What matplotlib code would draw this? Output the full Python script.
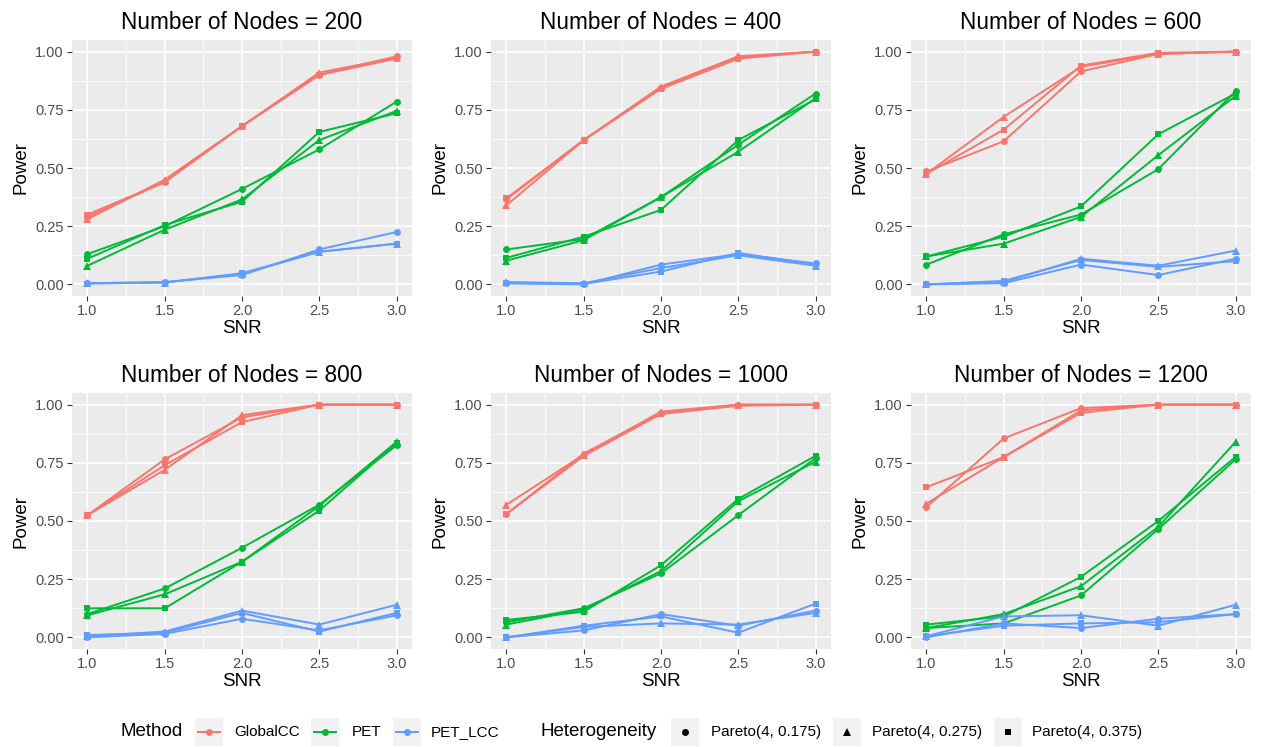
import matplotlib
matplotlib.use("Agg")
import matplotlib.pyplot as plt
from matplotlib.lines import Line2D
from matplotlib.patches import Rectangle

plt.rcParams['font.family'] = ['Liberation Sans', 'DejaVu Sans']

snr = [1.0, 1.5, 2.0, 2.5, 3.0]
nodes = [200, 400, 600, 800, 1000, 1200]
methods = ["GlobalCC", "PET", "PET_LCC"]
hetero = ["Pareto(4, 0.175)", "Pareto(4, 0.275)", "Pareto(4, 0.375)"]

# power[nodes][method] -> three series (one per heterogeneity level)
power_200 = {
    "GlobalCC": [[0.29, 0.44, 0.68, 0.90, 0.98], [0.28, 0.45, 0.68, 0.91, 0.975], [0.30, 0.44, 0.68, 0.90, 0.97]],
    "PET": [[0.13, 0.25, 0.41, 0.58, 0.785], [0.08, 0.235, 0.365, 0.62, 0.745], [0.11, 0.255, 0.355, 0.655, 0.735]],
    "PET_LCC": [[0.005, 0.01, 0.04, 0.15, 0.225], [0.005, 0.008, 0.045, 0.14, 0.175], [0.003, 0.008, 0.048, 0.14, 0.175]],
}
power_400 = {
    "GlobalCC": [[0.365, 0.62, 0.845, 0.975, 1.0], [0.34, 0.62, 0.85, 0.98, 1.0], [0.37, 0.62, 0.84, 0.97, 1.0]],
    "PET": [[0.15, 0.195, 0.375, 0.60, 0.82], [0.102, 0.19, 0.375, 0.57, 0.80], [0.114, 0.205, 0.32, 0.62, 0.795]],
    "PET_LCC": [[0.005, 0.0, 0.085, 0.13, 0.09], [0.01, 0.005, 0.07, 0.125, 0.08], [0.005, 0.002, 0.055, 0.135, 0.085]],
}
power_600 = {
    "GlobalCC": [[0.485, 0.615, 0.915, 0.99, 1.0], [0.475, 0.72, 0.935, 0.99, 1.0], [0.475, 0.665, 0.94, 0.995, 1.0]],
    "PET": [[0.085, 0.215, 0.30, 0.495, 0.83], [0.12, 0.175, 0.29, 0.555, 0.81], [0.12, 0.205, 0.335, 0.645, 0.82]],
    "PET_LCC": [[0.0, 0.005, 0.085, 0.04, 0.11], [0.0, 0.01, 0.11, 0.08, 0.145], [0.0, 0.015, 0.105, 0.075, 0.10]],
}
power_800 = {
    "GlobalCC": [[0.525, 0.765, 0.945, 1.0, 1.0], [0.525, 0.72, 0.955, 1.0, 1.0], [0.525, 0.74, 0.925, 1.0, 1.0]],
    "PET": [[0.10, 0.21, 0.385, 0.57, 0.825], [0.095, 0.185, 0.325, 0.565, 0.84], [0.125, 0.125, 0.325, 0.545, 0.835]],
    "PET_LCC": [[0.0, 0.015, 0.08, 0.03, 0.095], [0.005, 0.025, 0.115, 0.055, 0.14], [0.01, 0.02, 0.105, 0.025, 0.105]],
}
power_1000 = {
    "GlobalCC": [[0.53, 0.79, 0.965, 1.0, 1.0], [0.57, 0.785, 0.97, 1.0, 1.0], [0.53, 0.78, 0.96, 0.995, 1.0]],
    "PET": [[0.065, 0.125, 0.275, 0.525, 0.77], [0.055, 0.12, 0.285, 0.585, 0.755], [0.075, 0.11, 0.31, 0.595, 0.78]],
    "PET_LCC": [[0.0, 0.03, 0.10, 0.05, 0.115], [0.0, 0.045, 0.06, 0.055, 0.105], [0.0, 0.05, 0.09, 0.02, 0.145]],
}
power_1200 = {
    "GlobalCC": [[0.56, 0.855, 0.985, 1.0, 1.0], [0.575, 0.775, 0.975, 1.0, 1.0], [0.645, 0.775, 0.965, 1.0, 1.0]],
    "PET": [[0.04, 0.06, 0.18, 0.465, 0.765], [0.04, 0.10, 0.22, 0.475, 0.84], [0.055, 0.09, 0.26, 0.50, 0.775]],
    "PET_LCC": [[0.0, 0.06, 0.04, 0.08, 0.10], [0.005, 0.09, 0.095, 0.05, 0.14], [0.005, 0.05, 0.06, 0.065, 0.10]],
}
power = [power_200, power_400, power_600, power_800, power_1000, power_1200]

colors = {"GlobalCC": "#F8766D", "PET": "#00BA38", "PET_LCC": "#619CFF"}
shapes = ["o", "^", "s"]
msizes = [5.0, 6.0, 5.0]

W, H = 1264, 747
fig = plt.figure(figsize=(W / 100, H / 100), dpi=100)

col_x = [72, 491, 911]
row_y = [40, 393]
pw, ph = 340, 256

bg = "#EBEBEB"
for i, n in enumerate(nodes):
    r, c = divmod(i, 3)
    x0, y0 = col_x[c], row_y[r]
    ax = fig.add_axes([x0 / W, 1 - (y0 + ph) / H, pw / W, ph / H])
    ax.set_facecolor(bg)
    for s in ax.spines.values():
        s.set_visible(False)
    ax.set_xlim(0.9, 3.1)
    ax.set_ylim(-0.05, 1.05)
    ax.set_xticks([1.0, 1.5, 2.0, 2.5, 3.0])
    ax.set_xticklabels(["1.0", "1.5", "2.0", "2.5", "3.0"])
    ax.set_yticks([0.0, 0.25, 0.5, 0.75, 1.0])
    ax.set_yticklabels(["0.00", "0.25", "0.50", "0.75", "1.00"])
    ax.set_xticks([1.25, 1.75, 2.25, 2.75], minor=True)
    ax.set_yticks([0.125, 0.375, 0.625, 0.875], minor=True)
    ax.grid(which="major", color="white", linewidth=1.1)
    ax.grid(which="minor", color="white", linewidth=0.55)
    ax.set_axisbelow(True)
    ax.tick_params(which="major", length=3.4, width=0.8, color="#333333",
                   labelsize=10.5, labelcolor="#4D4D4D", pad=2.5)
    ax.tick_params(which="minor", length=0)
    ax.set_xlabel("SNR", fontsize=13.5, labelpad=1)
    ax.set_ylabel("Power", fontsize=13.5, labelpad=4)
    ax.set_title(f"Number of Nodes = {n}", fontsize=16.3, pad=8)

    data = power[i]
    for m in methods:
        for k in range(3):
            ax.plot(snr, data[m][k], color=colors[m], linewidth=1.4, zorder=2)
    for m in methods:
        for k in range(3):
            ax.plot(snr, data[m][k], linestyle="none", marker=shapes[k],
                    markersize=msizes[k], color=colors[m], markeredgewidth=0, zorder=3)

# Bottom legend
ly = 732
fig.text(120 / W, 1 - ly / H, "Method", fontsize=13.5, va="center", ha="left")
key_w = 28
method_keys = [(195, 234), (311, 352), (393, 431)]
for (kx, tx), m in zip(method_keys, methods):
    fig.add_artist(Rectangle((kx / W, 1 - (ly + key_w / 2) / H), key_w / W, key_w / H,
                             transform=fig.transFigure, facecolor="#F2F2F2", edgecolor="none"))
    fig.add_artist(Line2D([(kx + 3) / W, (kx + key_w - 3) / W], [1 - ly / H, 1 - ly / H],
                          transform=fig.transFigure, color=colors[m], linewidth=1.4))
    fig.add_artist(Line2D([(kx + key_w / 2) / W], [1 - ly / H], transform=fig.transFigure,
                          color=colors[m], marker="o", markersize=5, markeredgewidth=0))
    fig.text(tx / W, 1 - ly / H, m, fontsize=11, va="center", ha="left")

fig.text(541 / W, 1 - ly / H, "Heterogeneity", fontsize=13.5, va="center", ha="left")
het_keys = [(671, 711), (833, 872), (994, 1032)]
for k, ((kx, tx), h) in enumerate(zip(het_keys, hetero)):
    fig.add_artist(Rectangle((kx / W, 1 - (ly + key_w / 2) / H), key_w / W, key_w / H,
                             transform=fig.transFigure, facecolor="#F2F2F2", edgecolor="none"))
    fig.add_artist(Line2D([(kx + key_w / 2) / W], [1 - ly / H], transform=fig.transFigure,
                          color="black", marker=shapes[k], markersize=msizes[k], markeredgewidth=0))
    fig.text(tx / W, 1 - ly / H, h, fontsize=11, va="center", ha="left")

fig.savefig("out.png", dpi=100, facecolor="white")
